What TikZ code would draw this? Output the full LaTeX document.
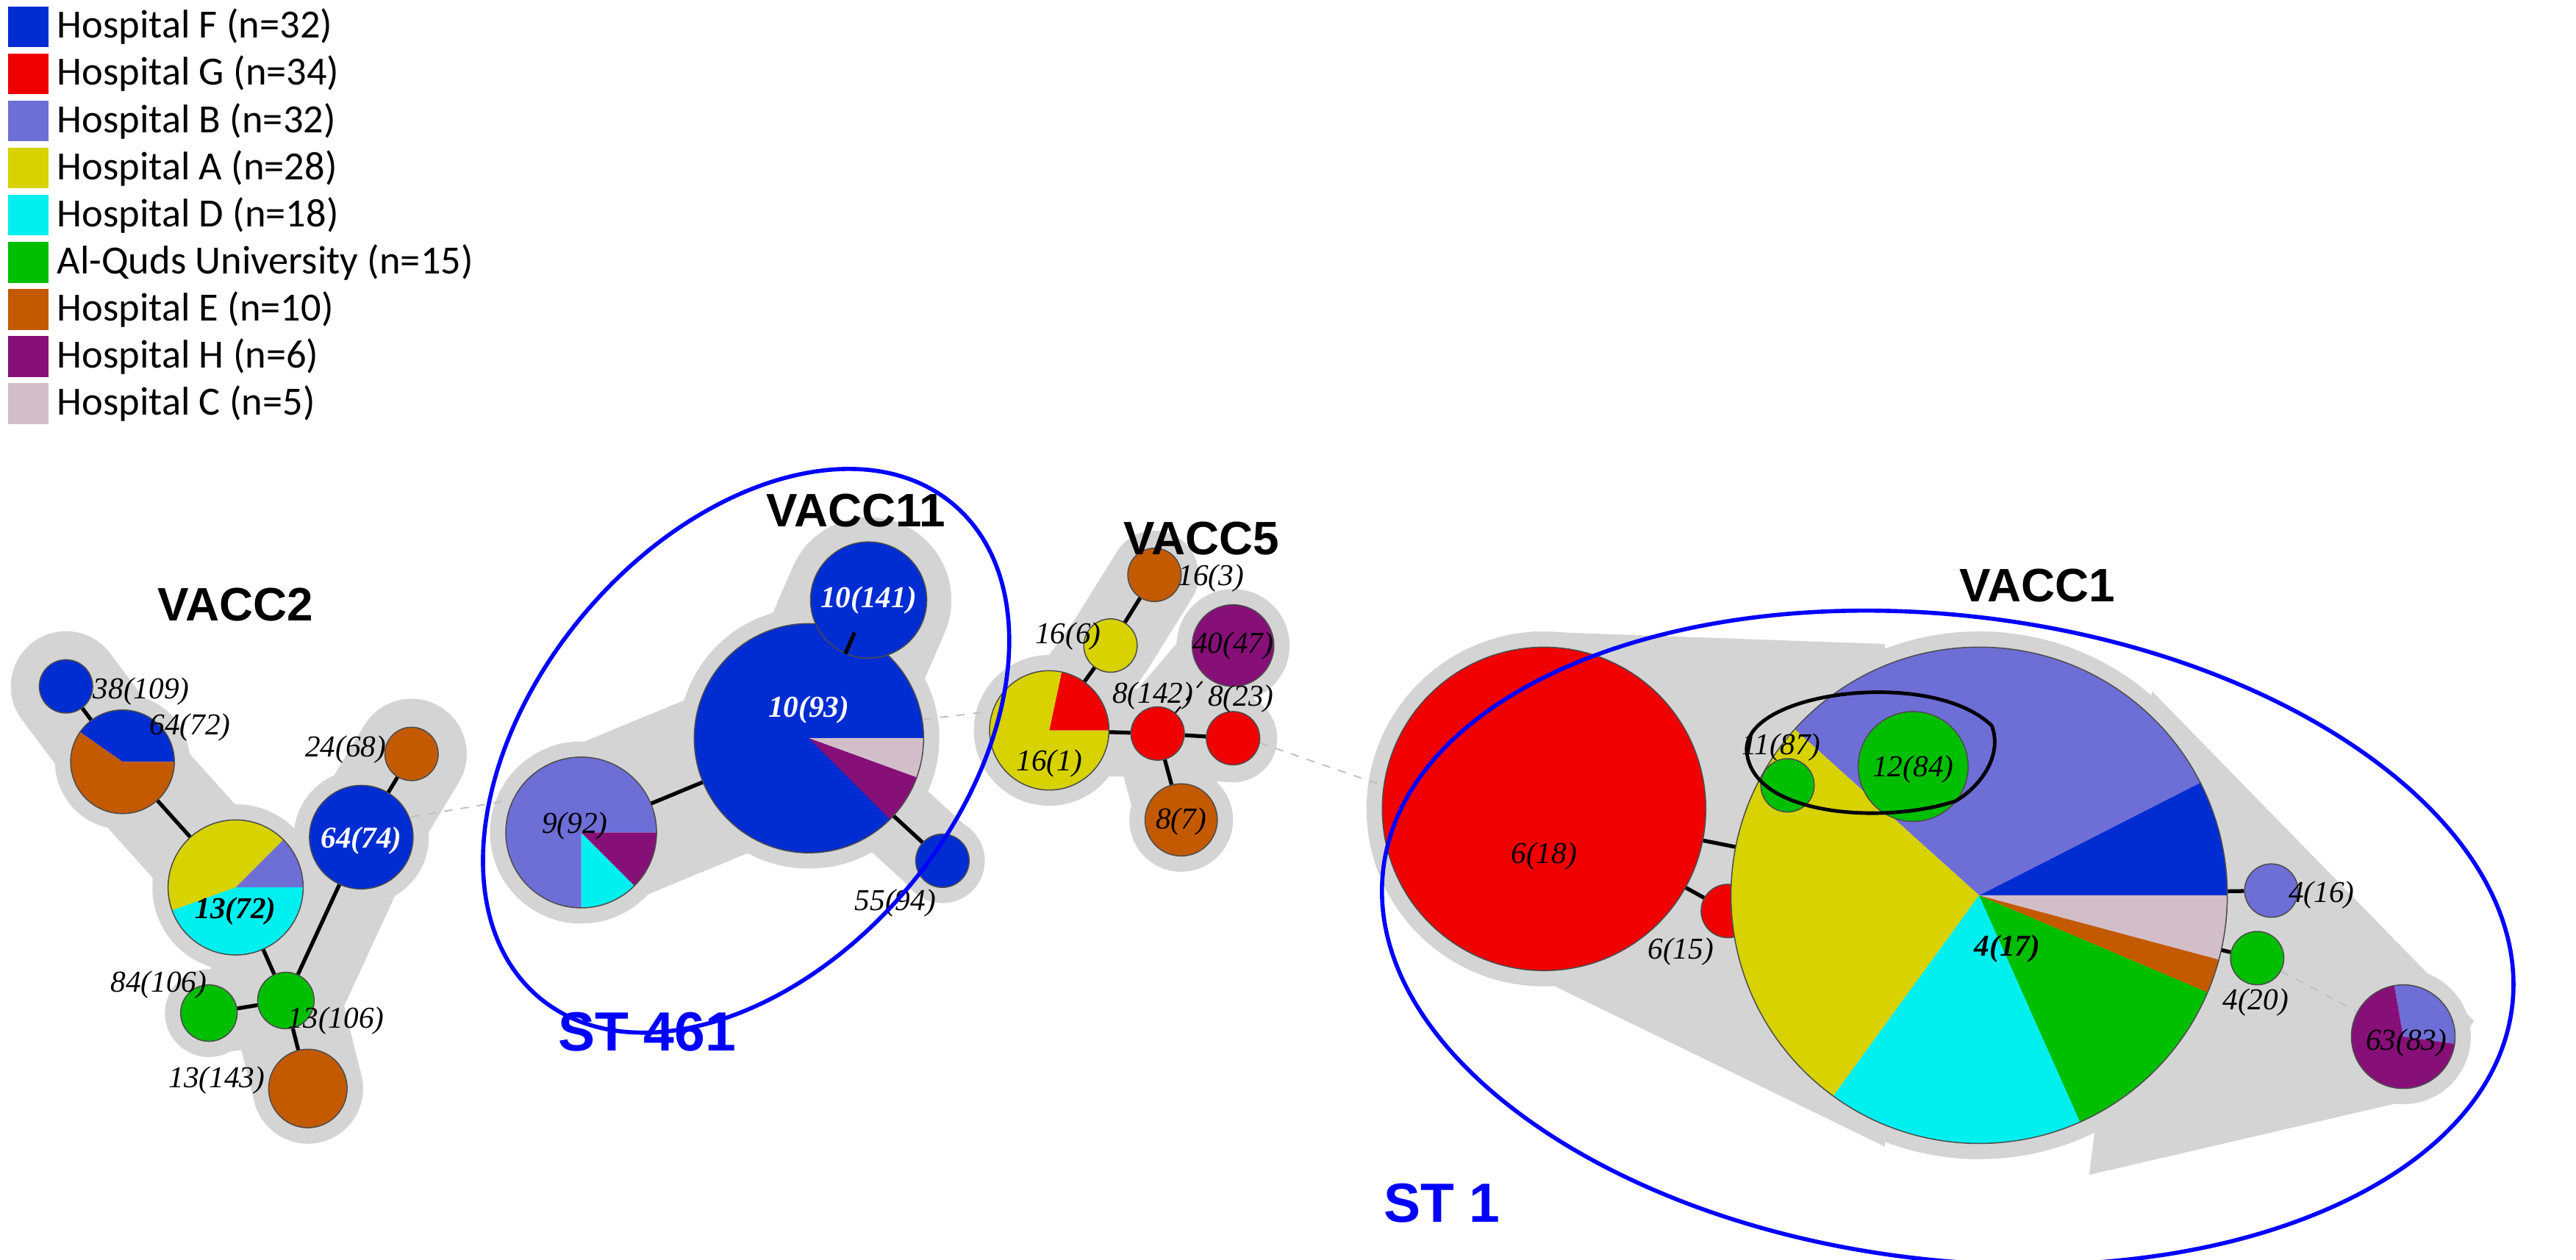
\documentclass[tikz,border=0pt]{standalone}
\usepackage{fontspec}
\setmainfont{Liberation Serif}
\newfontfamily\lgfont{Carlito}
\newfontfamily\arialfont{Liberation Sans}
\definecolor{cF}{RGB}{0,45,210}
\definecolor{cG}{RGB}{240,0,0}
\definecolor{cB}{RGB}{110,110,215}
\definecolor{cA}{RGB}{215,210,0}
\definecolor{cD}{RGB}{0,240,240}
\definecolor{cQ}{RGB}{0,190,0}
\definecolor{cE}{RGB}{195,90,0}
\definecolor{cH}{RGB}{135,15,120}
\definecolor{cC}{RGB}{210,190,200}
\definecolor{hull}{RGB}{212,212,212}
\newcommand\nd[5]{\node[circle,draw=black!70,line width=0.4pt,fill=#5,minimum size=#4*0.04cm,inner sep=0pt] (#1) at (#2,#3) {};}
\newcommand\pn[4]{\node[circle,minimum size=#4*0.04cm,inner sep=0pt] (#1) at (#2,#3) {};}
\newcommand\sect[6]{\fill[#6] (#1,#2) -- ++(-#4:#3) arc[start angle=-#4,end angle=-#5,radius=#3] -- cycle;}
\newcommand\rim[3]{\draw[black!70,line width=0.4pt] (#1,#2) circle[radius=#3];}
\newcommand\hb[3]{\fill[hull] (#1,#2) circle[radius=#3];}
\tikzset{
 lab/.style={font=\fontsize{11}{13}\selectfont\itshape,inner sep=0pt},
 blab/.style={font=\fontsize{11}{13}\selectfont\bfseries\itshape,inner sep=0pt},
 title/.style={font=\arialfont\bfseries\fontsize{17}{19}\selectfont},
 stl/.style={font=\arialfont\bfseries\fontsize{20}{22}\selectfont,text=blue},
 edge/.style={line width=1.4pt,black},
 weak/.style={black!25,dashed,line width=0.5pt},
 hl/.style={hull,line cap=round},
 lg/.style={font=\lgfont\fontsize{14.5}{16}\selectfont,anchor=west,inner sep=0pt},
 sq/.style={minimum size=0.52cm,inner sep=0pt}
}
\begin{document}
\begin{tikzpicture}[x=0.02cm,y=-0.02cm]
\useasboundingbox (0,0) rectangle (1640,802);
% legend
\foreach \c/\t [count=\i from 0] in {cF/Hospital F (n=32),cG/Hospital G (n=34),cB/Hospital B (n=32),cA/Hospital A (n=28),cD/Hospital D (n=18),cQ/Al-Quds University (n=15),cE/Hospital E (n=10),cH/Hospital H (n=6),cC/Hospital C (n=5)}{
 \node[sq,fill=\c] (sq\i) at (18,17+30*\i) {};
 \node[lg] (lt\i) at (36,17+30*\i) {\t};
}
% ---------- hulls
% VACC2
\hb{42}{437}{27}\hb{78}{485}{43}\hb{150}{565}{53}\hb{230}{533}{43}\hb{262}{480}{27}\hb{182}{637}{28}\hb{133}{645}{28}\hb{196}{693}{35}
\draw[hl,line width=40pt] (42,437)--(78,485)--(150,565)--(182,637)--(196,693);
\draw[hl,line width=30pt] (182,637)--(133,645);
\draw[hl,line width=40pt] (182,637)--(230,533)--(262,480);
\draw[hl,line width=30pt] (150,565)--(182,637)--(230,533);
% VACC11
\hb{370}{530}{58}\hb{515}{470}{83}\hb{553}{382}{47}\hb{600}{548}{27}
\draw[hl,line width=60pt] (370,530)--(515,470)--(553,382);
\draw[hl,line width=30pt] (515,470)--(600,548);
% VACC5
\hb{668}{465}{48}\hb{707}{411}{27}\hb{735}{366}{27}\hb{785}{411}{36}\hb{737}{467}{27}\hb{785}{470}{27}\hb{752}{522}{33}
\draw[hl,line width=32pt] (668,465)--(707,411)--(735,366);
\draw[hl,line width=32pt] (668,465)--(737,467)--(785,470);
\draw[hl,line width=32pt] (737,467)--(752,522);
\draw[hl,line width=32pt] (737,467)--(785,411);
% VACC1
\hb{983}{515}{113}\hb{1260}{570}{168}\hb{1100}{580}{27}
\fill[hull] (975,402)--(1200,410)--(1200,730)--(990,628)--cycle;
\fill[hull] (1370,440)--(1575,650)--(1545,698)--(1330,748)--cycle;
\hb{1530}{660}{43}
% ---------- weak links
\draw[weak] (262,520)--(322,510);
\draw[weak] (588,458)--(630,453);
\draw[weak] (802,473)--(880,500);
% ---------- VACC2 nodes
\nd{n38}{42}{437}{17}{cF}
\pn{n64a}{78}{485}{33}
\sect{78}{485}{33}{0}{145}{cF}\sect{78}{485}{33}{145}{360}{cE}\rim{78}{485}{33}
\pn{n1372}{150}{565}{43}
\sect{150}{565}{43}{0}{45}{cB}\sect{150}{565}{43}{45}{200}{cA}\sect{150}{565}{43}{200}{360}{cD}\rim{150}{565}{43}
\nd{n6474}{230}{533}{33}{cF}
\nd{n2468}{262}{480}{17}{cE}
\nd{n13106}{182}{637}{18}{cQ}
\nd{n84}{133}{645}{18}{cQ}
\nd{n13143}{196}{693}{25}{cE}
\draw[edge] (n38)--(n64a); \draw[edge] (n64a)--(n1372); \draw[edge] (n1372)--(n13106);
\draw[edge] (n13106)--(n84); \draw[edge] (n13106)--(n13143); \draw[edge] (n13106)--(n6474); \draw[edge] (n6474)--(n2468);
\node[lab] (l1) at (90,440) {38(109)};
\node[lab] (l2) at (121,463) {64(72)};
\node[blab] (l3) at (150,580) {13(72)};
\node[blab,text=white] (l4) at (230,535) {64(74)};
\node[lab] (l5) at (220,477) {24(68)};
\node[lab] (l6) at (214,650) {13(106)};
\node[lab] (l7) at (101,627) {84(106)};
\node[lab] (l8) at (138,688) {13(143)};
\node[title] (t2) at (150,385) {VACC2};
% ---------- VACC11 nodes
\pn{n992}{370}{530}{48}
\sect{370}{530}{48}{270}{315}{cD}\sect{370}{530}{48}{315}{360}{cH}\sect{370}{530}{48}{0}{270}{cB}\rim{370}{530}{48}
\pn{n1093}{515}{470}{73}
\sect{515}{470}{73}{0}{340}{cF}\sect{515}{470}{73}{340}{360}{cC}\sect{515}{470}{73}{315}{340}{cH}\rim{515}{470}{73}
\nd{n10141}{553}{382}{37}{cF}
\nd{n5594}{600}{548}{17}{cF}
\draw[edge] (n992)--(n1093); \draw[edge] (n1093)--(n10141); \draw[edge] (n1093)--(n5594);
\node[lab] (l9) at (366,526) {9(92)};
\node[blab,text=white] (l10) at (515,452) {10(93)};
\node[blab,text=white] (l11) at (553,382) {10(141)};
\node[lab] (l12) at (570,575) {55(94)};
\node[title] (t11) at (545,325) {VACC11};
\node[stl] (st461) at (412,657) {ST 461};
% ---------- VACC5 nodes
\pn{n161}{668}{465}{38}
\sect{668}{465}{38}{0}{78}{cG}\sect{668}{465}{38}{78}{360}{cA}\rim{668}{465}{38}
\nd{n166}{707}{411}{17}{cA}
\nd{n163}{735}{366}{17}{cE}
\nd{n4047}{785}{411}{26}{cH}
\nd{n8142}{737}{467}{17}{cG}
\nd{n823}{785}{470}{17}{cG}
\nd{n87}{752}{522}{23}{cE}
\draw[edge] (n161)--(n166); \draw[edge] (n166)--(n163); \draw[edge] (n161)--(n8142);
\draw[edge] (n8142)--(n823); \draw[edge] (n8142)--(n87);
\draw[black,dashed,line width=0.6pt] (n8142)--(n4047);
\node[lab] (l13) at (668,486) {16(1)};
\node[lab] (l14) at (680,405) {16(6)};
\node[lab] (l15) at (771,368) {16(3)};
\node[lab] (l16) at (785,411) {40(47)};
\node[lab] (l17) at (734,443) {8(142)};
\node[lab] (l18) at (790,445) {8(23)};
\node[lab] (l19) at (752,523) {8(7)};
\node[title] (t5) at (765,343) {VACC5};
% ---------- VACC1 nodes
\nd{n618}{983}{515}{103}{cG}
\nd{n615}{1100}{580}{17}{cG}
\pn{n417}{1260}{570}{158}
\sect{1260}{570}{158}{0}{27}{cF}
\sect{1260}{570}{158}{27}{138}{cB}
\sect{1260}{570}{158}{138}{234}{cA}
\sect{1260}{570}{158}{234}{294}{cD}
\sect{1260}{570}{158}{294}{337}{cQ}
\sect{1260}{570}{158}{337}{345}{cE}
\sect{1260}{570}{158}{345}{360}{cC}
\rim{1260}{570}{158}
\nd{n1187}{1138}{500}{17}{cQ}
\nd{n1284}{1218}{488}{35}{cQ}
\nd{n416}{1446}{567}{17}{cB}
\nd{n420}{1437}{610}{17}{cQ}
\pn{n6383}{1530}{660}{33}
\sect{1530}{660}{33}{-8}{100}{cB}\sect{1530}{660}{33}{100}{352}{cH}\rim{1530}{660}{33}
\draw[edge] (n618)--(n417); \draw[edge] (n618)--(n615);
\draw[edge] (n417)--(n416); \draw[edge] (n417)--(n420);
\draw[weak] (n420)--(n6383);
\node[lab] (l20) at (983,545) {6(18)};
\node[lab] (l21) at (1070,606) {6(15)};
\node[blab] (l22) at (1278,604) {4(17)};
\node[lab] (l23) at (1134,476) {11(87)};
\node[lab] (l24) at (1218,490) {12(84)};
\node[lab] (l25) at (1478,570) {4(16)};
\node[lab] (l26) at (1436,638) {4(20)};
\node[lab] (l27) at (1532,664) {63(83)};
\draw[black,line width=1.3pt] (1112,478) .. controls (1110,440) and (1230,425) .. (1268,462) .. controls (1275,480) and (1262,500) .. (1245,510) .. controls (1200,525) and (1115,520) .. (1112,478);
\node[title] (t1) at (1297,373) {VACC1};
\node[stl] (st1) at (918,766) {ST 1};
% ---------- ST ellipses
\draw[blue,line width=1.5pt,rotate around={50:(475,478)}] (475,478) ellipse[x radius=205,y radius=135];
\draw[blue,line width=1.5pt,rotate around={-7:(1240,597)}] (1240,597) ellipse[x radius=362,y radius=205];
\end{tikzpicture}
\end{document}
